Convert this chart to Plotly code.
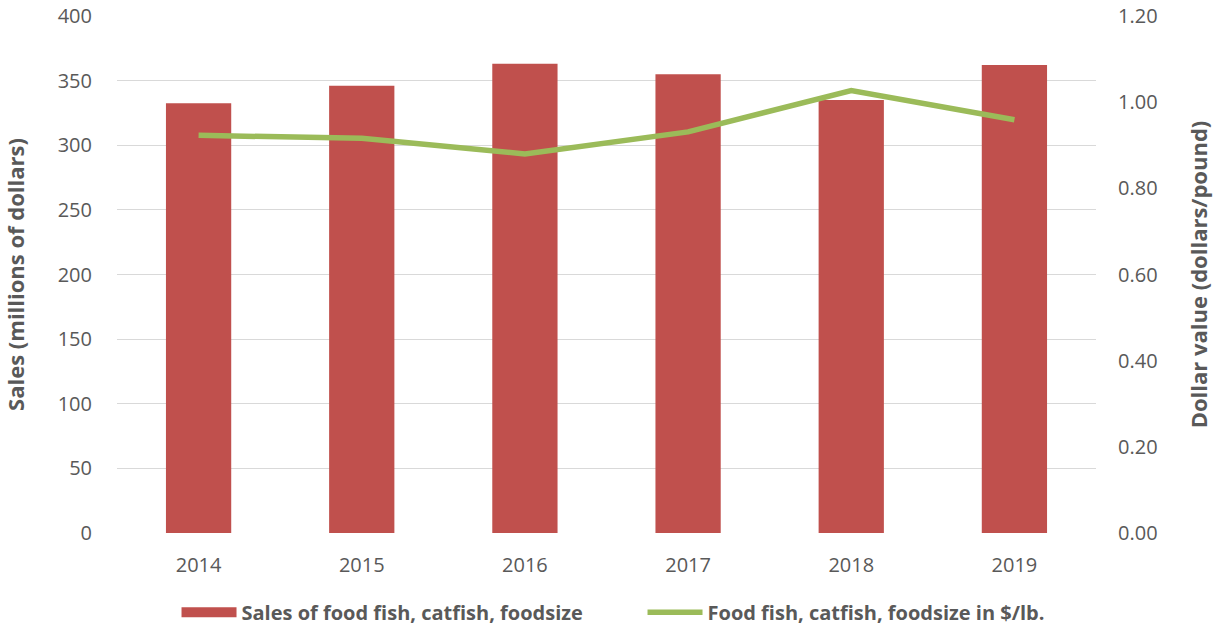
import plotly.graph_objects as go

years = ["2014", "2015", "2016", "2017", "2018", "2019"]
sales = [332.5, 346, 363, 355, 335, 362]
price = [0.923, 0.916, 0.880, 0.931, 1.027, 0.959]
left_ticks = [0, 50, 100, 150, 200, 250, 300, 350, 400]
right_ticks = [0.0, 0.2, 0.4, 0.6, 0.8, 1.0, 1.2]

font_family = "Open Sans, Liberation Sans, sans-serif"
gray = "#595959"
red = "#C0504D"
green = "#9BBB59"

fig = go.Figure()
fig.add_trace(go.Bar(
    x=years, y=sales, name="Sales of food fish, catfish, foodsize",
    marker=dict(color=red, line=dict(width=0)), yaxis="y", showlegend=False))
# legend-only entry drawn as a wide rectangle (like the reference legend key)
fig.add_trace(go.Scatter(
    x=[None], y=[None], name="<b>Sales of food fish, catfish, foodsize</b>",
    mode="lines", line=dict(color=red, width=13), yaxis="y"))
fig.add_trace(go.Scatter(
    x=years, y=price, name="<b>Food fish, catfish, foodsize in $/lb.</b>",
    mode="lines", line=dict(color=green, width=5.5), yaxis="y2"))

fig.update_layout(
    width=1213, height=628,
    margin=dict(l=117, r=117, t=16, b=95, autoexpand=False),
    paper_bgcolor="white", plot_bgcolor="white",
    font=dict(family=font_family, color=gray, size=20),
    bargap=0.6,
    showlegend=True,
    legend=dict(orientation="h", x=0.0608, xanchor="left",
                yref="container", y=0.025, yanchor="middle",
                font=dict(size=20, color=gray), itemwidth=55, traceorder="normal",
                entrywidth=396),
    xaxis=dict(type="category", showgrid=False, showline=False, ticks="",
               automargin=False, ticklabeloverflow="allow",
               tickfont=dict(size=20, color=gray), ticklabelstandoff=18),
    yaxis=dict(range=[0, 400], tickvals=left_ticks, showgrid=True,
               gridcolor="#D9D9D9", gridwidth=1, zeroline=False, showline=False,
               automargin=False, ticklabeloverflow="allow",
               tickfont=dict(size=20, color=gray), ticklabelstandoff=24,
               title=dict(text="<b>Sales (millions of dollars)</b>",
                          font=dict(size=22, color=gray), standoff=40)),
    yaxis2=dict(range=[0, 1.2], tickvals=right_ticks, tickformat=".2f",
                overlaying="y", side="right", showgrid=False, zeroline=False,
                showline=False, automargin=False, ticklabeloverflow="allow",
                tickfont=dict(size=20, color=gray), ticklabelstandoff=21,
                title=dict(text="<b>Dollar value (dollars/pound)</b>",
                           font=dict(size=22, color=gray), standoff=36)),
)

# remove the page's default 8px body margin so the figure fills the window exactly
fig.write_html("out.html", config={"displayModeBar": False},
               post_script="document.body.style.margin='0';")
